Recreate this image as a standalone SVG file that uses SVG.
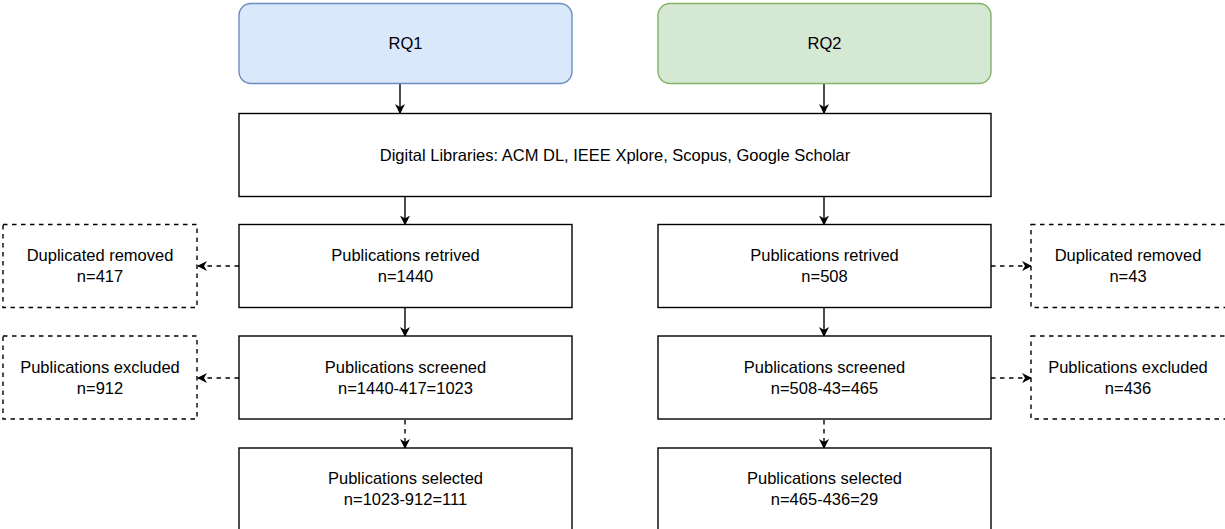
<svg xmlns="http://www.w3.org/2000/svg" width="1225" height="529" viewBox="0 0 1225 529">
<defs>
<marker id="arr" viewBox="0 0 10 10" refX="9" refY="5" markerWidth="10" markerHeight="10" markerUnits="userSpaceOnUse" orient="auto">
<path d="M0,0 L10,5 L0,10 L3,5 Z" fill="#000"/>
</marker>
</defs>
<style>
.box{fill:#fff;stroke:#000;stroke-width:1.4}
.dbox{fill:#fff;stroke:#000;stroke-width:1.4;stroke-dasharray:4.5 4.5}
.rq1{fill:#dae8fc;stroke:#6c8ebf;stroke-width:1.4}
.rq2{fill:#d5e8d4;stroke:#82b366;stroke-width:1.4}
.ln{fill:none;stroke:#000;stroke-width:1.4;marker-end:url(#arr)}
.dl{fill:none;stroke:#000;stroke-width:1.4;stroke-dasharray:4.5 4.5;marker-end:url(#arr)}
text{font-family:"Liberation Sans",Arial,sans-serif;font-size:16.5px;fill:#000;text-anchor:middle}
</style>
<rect width="1225" height="529" fill="#fff"/>
<g id="connectors">
<line class="ln" x1="400" y1="84" x2="400" y2="113"/>
<line class="ln" x1="824" y1="84" x2="824" y2="113"/>
<line class="ln" x1="405" y1="197" x2="405" y2="224.5"/>
<line class="ln" x1="824" y1="197" x2="824" y2="224.5"/>
<line class="ln" x1="405" y1="308" x2="405" y2="336"/>
<line class="ln" x1="824" y1="308" x2="824" y2="336"/>
<line class="dl" x1="405" y1="420" x2="405" y2="448"/>
<line class="dl" x1="824" y1="420" x2="824" y2="448"/>
<line class="dl" x1="239" y1="266" x2="198" y2="266"/>
<line class="dl" x1="239" y1="378" x2="198" y2="378"/>
<line class="dl" x1="991" y1="266" x2="1031" y2="266"/>
<line class="dl" x1="991" y1="378" x2="1031" y2="378"/>
</g>
<g id="rq1"><rect class="rq1" x="239" y="3.5" width="333" height="80" rx="12"/><text x="405.5" y="49">RQ1</text></g>
<g id="rq2"><rect class="rq2" x="658" y="3.5" width="333" height="80" rx="12"/><text x="824.5" y="49">RQ2</text></g>
<g id="libraries"><rect class="box" x="239" y="113.5" width="752" height="83"/><text x="615" y="161">Digital Libraries: ACM DL, IEEE Xplore, Scopus, Google Scholar</text></g>
<g id="retrieved1"><rect class="box" x="239" y="224.5" width="333" height="83"/><text x="405.5" y="261">Publications retrived</text><text x="405.5" y="282">n=1440</text></g>
<g id="retrieved2"><rect class="box" x="658" y="224.5" width="333" height="83"/><text x="824.5" y="261">Publications retrived</text><text x="824.5" y="282">n=508</text></g>
<g id="dup1"><rect class="dbox" x="3" y="224.5" width="194" height="83"/><text x="100" y="261">Duplicated removed</text><text x="100" y="282">n=417</text></g>
<g id="dup2"><rect class="dbox" x="1031" y="224.5" width="210" height="83"/><text x="1128" y="261">Duplicated removed</text><text x="1128" y="282">n=43</text></g>
<g id="screened1"><rect class="box" x="239" y="336" width="333" height="83"/><text x="405.5" y="373">Publications screened</text><text x="405.5" y="394">n=1440-417=1023</text></g>
<g id="screened2"><rect class="box" x="658" y="336" width="333" height="83"/><text x="824.5" y="373">Publications screened</text><text x="824.5" y="394">n=508-43=465</text></g>
<g id="excl1"><rect class="dbox" x="3" y="336" width="194" height="83"/><text x="100" y="373">Publications excluded</text><text x="100" y="394">n=912</text></g>
<g id="excl2"><rect class="dbox" x="1031" y="336" width="210" height="83"/><text x="1128" y="373">Publications excluded</text><text x="1128" y="394">n=436</text></g>
<g id="selected1"><rect class="box" x="239" y="448" width="333" height="100"/><text x="405.5" y="484">Publications selected</text><text x="405.5" y="505">n=1023-912=111</text></g>
<g id="selected2"><rect class="box" x="658" y="448" width="333" height="100"/><text x="824.5" y="484">Publications selected</text><text x="824.5" y="505">n=465-436=29</text></g>
</svg>
